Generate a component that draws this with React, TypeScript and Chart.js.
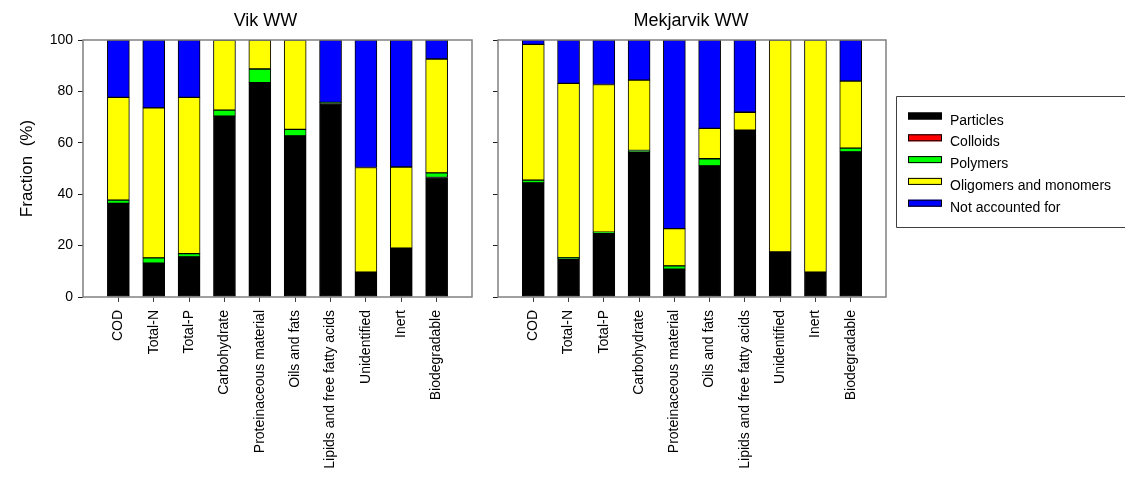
import React, { useEffect, useRef } from 'react';
import { Chart, registerables } from 'chart.js';

Chart.register(...registerables);

const FONT = "'Liberation Sans', Arial, sans-serif";

const categories = [
  'COD',
  'Total-N',
  'Total-P',
  'Carbohydrate',
  'Proteinaceous material',
  'Oils and fats',
  'Lipids and free fatty acids',
  'Unidentified',
  'Inert',
  'Biodegradable',
];

const seriesNames = ['Particles', 'Colloids', 'Polymers', 'Oligomers and monomers', 'Not accounted for'];
const seriesColors = ['#000000', '#ff0000', '#00ff00', '#ffff00', '#0000ff'];
const yTicks = [0, 20, 40, 60, 80, 100];

// Vik WW (segment sizes, %)
const vikParticles = [36.4, 13.2, 15.6, 70.4, 83.4, 62.7, 75.3, 9.7, 19.0, 46.5];
const vikColloids = [0, 0, 0, 0, 0, 0, 0, 0, 0, 0];
const vikPolymers = [1.3, 2.0, 1.3, 2.3, 5.3, 2.5, 0.4, 0, 0, 1.8];
const vikOligomers = [40.0, 58.4, 60.8, 27.3, 11.3, 34.8, 0, 40.7, 31.6, 44.3];
const vikNotAccounted = [22.3, 26.4, 22.3, 0, 0, 0, 24.3, 49.6, 49.4, 7.4];

// Mekjarvik WW (segment sizes, %)
const mekParticles = [44.4, 14.9, 24.9, 56.5, 10.8, 51.0, 64.9, 17.5, 9.7, 56.5];
const mekColloids = [0, 0, 0, 0, 0, 0, 0, 0, 0, 0];
const mekPolymers = [1.1, 0.4, 0.3, 0.5, 1.3, 2.8, 0, 0, 0, 1.4];
const mekOligomers = [52.8, 67.8, 57.5, 27.4, 14.5, 11.8, 7.0, 82.5, 90.3, 26.1];
const mekNotAccounted = [1.7, 16.9, 17.3, 15.6, 73.4, 34.4, 28.1, 0, 0, 16.0];

const vikSeries = [vikParticles, vikColloids, vikPolymers, vikOligomers, vikNotAccounted];
const mekSeries = [mekParticles, mekColloids, mekPolymers, mekOligomers, mekNotAccounted];

const paddedLabels = ['', ...categories, ''];
const pad = (arr: number[]) => [null, ...arr, null];

function framePlugin() {
  return {
    id: 'frame',
    afterDatasetsDraw(chart: any) {
      const { ctx, chartArea } = chart;
      ctx.save();
      ctx.strokeStyle = '#808080';
      ctx.lineWidth = 1.5;
      ctx.strokeRect(chartArea.left, chartArea.top, chartArea.right - chartArea.left, chartArea.bottom - chartArea.top);
      ctx.restore();
    },
  };
}

function titlePlugin(text: string, dx: number) {
  return {
    id: 'panelTitle',
    afterDraw(chart: any) {
      const { ctx, chartArea } = chart;
      ctx.save();
      ctx.font = `18px ${FONT}`;
      ctx.fillStyle = '#000';
      ctx.textAlign = 'center';
      ctx.textBaseline = 'alphabetic';
      ctx.fillText(text, (chartArea.left + chartArea.right) / 2 + dx, 25.5);
      ctx.restore();
    },
  };
}

function legendPlugin() {
  return {
    id: 'boxLegend',
    afterDraw(chart: any) {
      const { ctx, chartArea, width } = chart;
      const left = chartArea.right + 10;
      const top = 96;
      const bottom = 227;
      ctx.save();
      ctx.strokeStyle = '#404040';
      ctx.lineWidth = 1;
      ctx.beginPath();
      ctx.moveTo(width + 5, top + 0.5);
      ctx.lineTo(left + 0.5, top + 0.5);
      ctx.lineTo(left + 0.5, bottom + 0.5);
      ctx.lineTo(width + 5, bottom + 0.5);
      ctx.stroke();
      ctx.font = `14px ${FONT}`;
      ctx.textAlign = 'left';
      ctx.textBaseline = 'alphabetic';
      chart.data.datasets.forEach((ds: any, i: number) => {
        const sy = 112.5 + i * 21.8;
        ctx.fillStyle = ds.backgroundColor;
        ctx.fillRect(left + 12, sy, 34, 7);
        ctx.strokeStyle = '#000';
        ctx.strokeRect(left + 12.5, sy + 0.5, 33, 6);
        ctx.fillStyle = '#000';
        ctx.fillText(ds.label, left + 54, sy + 12);
      });
      ctx.restore();
    },
  };
}

function makeConfig(series: number[][], isLeft: boolean, rightPad: number, title: string, dx: number): any {
  const plugins: any[] = [framePlugin(), titlePlugin(title, dx)];
  if (!isLeft) plugins.push(legendPlugin());
  return {
    type: 'bar',
    data: {
      labels: paddedLabels,
      datasets: seriesNames.map((name, i) => ({
        label: name,
        data: pad(series[i]),
        backgroundColor: seriesColors[i],
        borderColor: '#000000',
        borderWidth: 1,
        borderSkipped: false,
        barThickness: 22,
      })),
    },
    plugins,
    options: {
      responsive: false,
      animation: false,
      events: [],
      layout: { padding: { top: 40, left: 0, right: rightPad, bottom: 0 } },
      plugins: {
        legend: { display: false },
        tooltip: { enabled: false },
        title: { display: false },
      },
      scales: {
        x: {
          stacked: true,
          offset: false,
          grid: {
            display: true,
            offset: false,
            drawOnChartArea: false,
            drawTicks: true,
            tickLength: 5,
            lineWidth: 1,
            color: (c: any) =>
              c.index === 0 || c.index === paddedLabels.length - 1 ? 'rgba(0,0,0,0)' : '#404040',
          },
          border: { display: false },
          ticks: {
            autoSkip: false,
            maxRotation: 90,
            minRotation: 90,
            padding: 8,
            color: '#000',
            font: { family: FONT, size: 14 },
          },
          afterFit: (s: any) => {
            s.height = 184;
            s.paddingLeft = 0;
            s.paddingRight = 0;
          },
        },
        y: {
          stacked: true,
          min: 0,
          max: 100,
          afterBuildTicks: (s: any) => {
            s.ticks = yTicks.map((v) => ({ value: v }));
          },
          grid: {
            display: true,
            drawOnChartArea: false,
            drawTicks: true,
            tickLength: 5,
            color: '#202020',
          },
          border: { display: false },
          ticks: {
            display: isLeft,
            padding: 5,
            color: '#000',
            font: { family: FONT, size: 14 },
          },
          title: {
            display: isLeft,
            text: 'Fraction  (%)',
            color: '#000',
            font: { family: FONT, size: 17 },
            padding: { top: 17, bottom: 0 },
          },
          afterFit: (s: any) => {
            s.width = isLeft ? 83 : 13;
            s.paddingTop = 0;
            s.paddingBottom = 0;
          },
        },
      },
    },
  };
}

export default function App() {
  const leftRef = useRef<HTMLCanvasElement>(null);
  const rightRef = useRef<HTMLCanvasElement>(null);

  useEffect(() => {
    const c1 = new Chart(leftRef.current!, makeConfig(vikSeries, true, 13, 'Vik WW', -12));
    const c2 = new Chart(rightRef.current!, makeConfig(mekSeries, false, 239, 'Mekjarvik WW', -1));
    return () => {
      c1.destroy();
      c2.destroy();
    };
  }, []);

  return (
    <div style={{ position: 'fixed', left: 0, top: 0, width: 1125, height: 481, background: '#fff' }}>
      <canvas ref={leftRef} width={485} height={481} style={{ position: 'absolute', left: 0, top: 0 }} />
      <canvas ref={rightRef} width={640} height={481} style={{ position: 'absolute', left: 485, top: 0 }} />
    </div>
  );
}
